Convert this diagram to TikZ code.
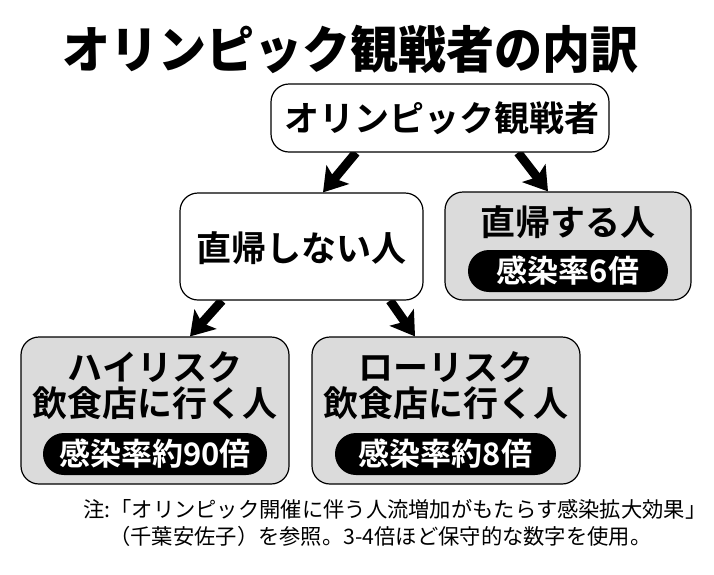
\documentclass[tikz,border=0pt]{standalone}
\usepackage{fontspec}
\setmainfont{Noto Sans CJK JP}[BoldFont={* Bold}]
\newfontfamily\titlefont{Noto Sans CJK JP}[UprightFont={* Black}]
\usetikzlibrary{arrows.meta,backgrounds}
\definecolor{boxgrey}{gray}{0.86}

\begin{document}
\begin{tikzpicture}[x=1pt,y=-1pt,
    box/.style={draw,line width=1.2pt,rounded corners=18pt,fill=white,inner sep=0pt},
    greybox/.style={box,fill=boxgrey},
    boxtext/.style={font=\bfseries\fontsize{35}{36}\selectfont,align=center,inner sep=0pt},
    pill/.style={fill=black,text=white,rounded corners=20.9pt,minimum height=42pt,inner sep=0pt,
      font=\bfseries\fontsize{31}{31}\selectfont},
    notetext/.style={anchor=west,font=\fontsize{21.3}{21.3}\selectfont,inner sep=0pt},
    bigarrow/.style={line width=9pt,-{Stealth[length=23pt,width=29pt,inset=5pt]}}]
    \useasboundingbox (0,0) rectangle (714,574);
    \node[font=\titlefont\fontsize{48}{48}\selectfont,yscale=1.05] (title) at (350,49) {オリンピック観戦者の内訳};
    \node[box,minimum width=338pt,minimum height=68pt] (fans) at (440,118) {};
    \node[boxtext] (fanslabel) at (442,118) {オリンピック観戦者};
    \node[box,minimum width=243pt,minimum height=107pt] (nodirect) at (301.5,246.5) {};
    \node[boxtext] (nodirectlabel) at (301.5,248) {直帰しない人};
    \node[greybox,minimum width=246pt,minimum height=108pt] (direct) at (568,246) {};
    \node[boxtext] (directlabel) at (568,222) {直帰する人};
    \node[pill,minimum width=200pt] (directrate) at (568,271) {感染率6倍};
    \node[greybox,minimum width=268pt,minimum height=147pt] (high) at (155,410.5) {};
    \node[boxtext] (highlabel) at (155,386) {ハイリスク\\飲食店に行く人};
    \node[pill,minimum width=224pt] (highrate) at (155,454) {感染率約90倍};
    \node[greybox,minimum width=268pt,minimum height=147pt] (low) at (446,410.5) {};
    \node[boxtext] (lowlabel) at (446,386) {ローリスク\\飲食店に行く人};
    \node[pill,minimum width=221pt] (lowrate) at (445.5,454) {感染率約8倍};
    \node[notetext] (note1) at (83,509) {注:「オリンピック開催に伴う人流増加がもたらす感染拡大効果」};
    \node[notetext] (note2) at (109,536) {（千葉安佐子）を参照。3-4倍ほど保守的な数字を使用。};
    \begin{scope}[on background layer]
      \draw[bigarrow] ([xshift=-84pt]fans.south) -- ([xshift=21.5pt]nodirect.north);
      \draw[bigarrow] ([xshift=78pt]fans.south) -- ([xshift=-20pt]direct.north);
      \draw[bigarrow] ([xshift=-79.5pt]nodirect.south) -- ([xshift=35pt]high.north);
      \draw[bigarrow] ([xshift=88.5pt]nodirect.south) -- ([xshift=-31pt]low.north);
    \end{scope}
  \end{tikzpicture}
\end{document}
